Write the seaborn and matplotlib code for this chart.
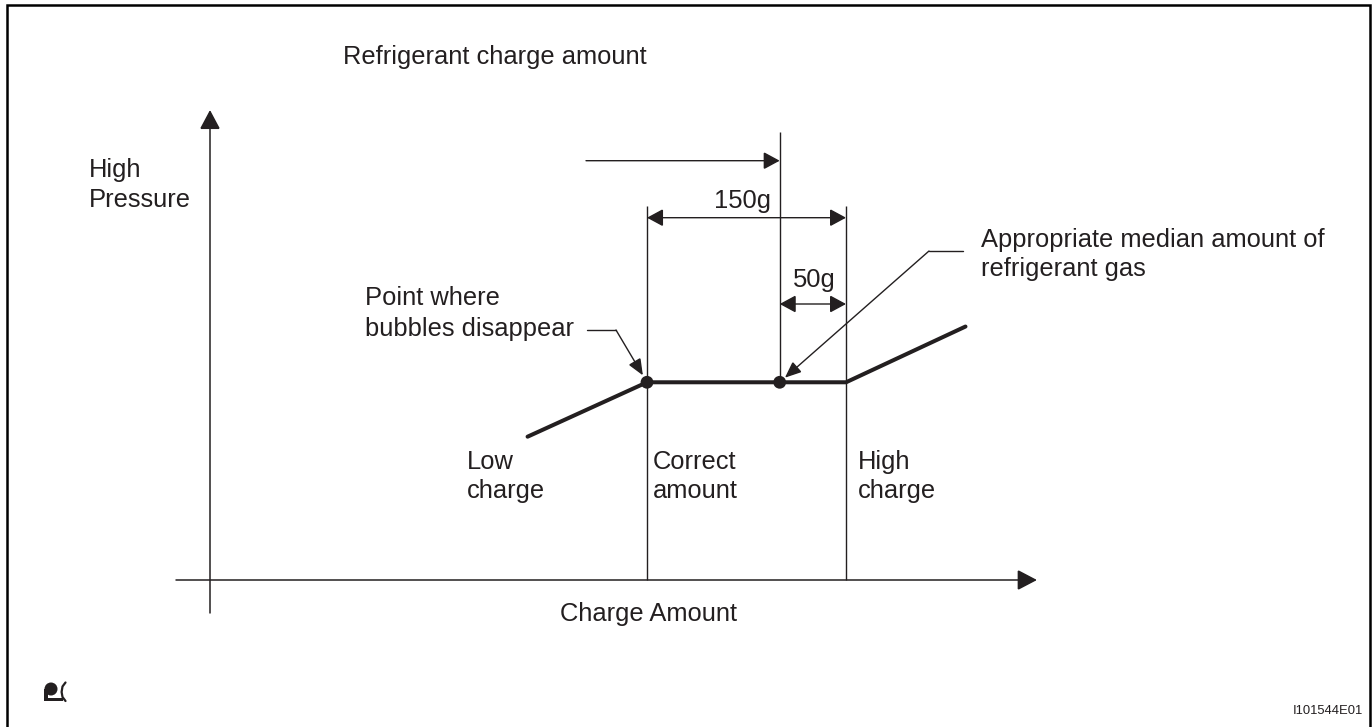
import matplotlib
matplotlib.use("Agg")
import matplotlib.pyplot as plt
import seaborn as sns
from matplotlib.transforms import Affine2D
from matplotlib.patches import Rectangle, Circle
from matplotlib.lines import Line2D

# ---------------- data ----------------
charge_g = [-90, 0, 100, 150, 240]          # charge amount (g, relative to bubble point)
high_pressure = [108, 149, 149, 149, 191]   # high pressure (relative units)
marker_g = [0, 100]                         # bubble point, appropriate median
marker_p = [149, 149]
correct_range_g = [0, 150]                  # correct amount zone
median_g = 100
dim_labels = ["150g", "50g"]
zone_labels = [["Low", "charge"], ["Correct", "amount"], ["High", "charge"]]
title = "Refrigerant charge amount"
x_label = "Charge Amount"
y_label = ["High", "Pressure"]
note_bubbles = ["Point where", "bubbles disappear"]
note_median = ["Appropriate median amount of", "refrigerant gas"]
figure_code = "I101544E01"

# ---------------- layout ----------------
W, H = 1372, 727
S = 1.327            # pixels per unit
OX, OY = 647, 580    # pixel position of the data origin
C = "#231f20"
FS = 18.4

sns.set_theme(style="white")
plt.rcParams['font.family'] = ['Liberation Sans', 'DejaVu Sans']

fig = plt.figure(figsize=(W / 100, H / 100), dpi=100)
fig.patch.set_facecolor("white")
ax = fig.add_axes([0, 0, 1, 1])
ax.set_xlim(-OX / S, (W - OX) / S)
ax.set_ylim((OY - H) / S, OY / S)
ax.axis('off')


def d(xp, yp):
    """pixel (top-left origin) -> data coords"""
    return ((xp - OX) / S, (OY - yp) / S)


tpx = Affine2D().scale(1, -1).translate(0, H)


def arrow(p0, p1, style, hl, hw, lw, shrinkB=0):
    ax.annotate("", xy=p1, xytext=p0,
                arrowprops=dict(arrowstyle=f"{style},head_length={hl},head_width={hw}",
                                lw=lw, color=C, shrinkA=0, shrinkB=shrinkB,
                                mutation_scale=1, joinstyle="miter"))


# axes arrows
arrow(d(176, 580), d(1037, 580), "-|>", 12.2, 6.4, 1.1)
arrow(d(210, 613), d(210, 110), "-|>", 12.0, 6.4, 1.1)

# zone boundary lines
top_p = d(0, 206)[1]
ax.vlines(correct_range_g, 0, top_p, color=C, lw=1.0)
ax.vlines([median_g], marker_p[1], d(0, 131.7)[1], color=C, lw=1.0)

# pressure curve
sns.lineplot(x=charge_g, y=high_pressure, ax=ax, color=C, lw=2.9,
             sort=False, estimator=None, solid_capstyle='round', zorder=4)
sns.scatterplot(x=marker_g, y=marker_p, ax=ax, s=85, color=C,
                edgecolor='none', zorder=5)

# dimension arrows
arrow((d(586, 0)[0], d(0, 160.7)[1]), (median_g, d(0, 160.7)[1]), "-|>", 10.0, 5.4, 1.0)
y150 = d(0, 217.7)[1]
arrow((correct_range_g[0], y150), (correct_range_g[1], y150), "<|-|>", 10.0, 5.4, 1.0)
y50 = d(0, 304)[1]
arrow((median_g, y50), (correct_range_g[1], y50), "<|-|>", 10.0, 5.4, 1.0)

ax.text(*d(771, 208), dim_labels[0], ha='right', va='baseline', fontsize=FS, color=C)
ax.text(*d(793, 287), dim_labels[1], ha='left', va='baseline', fontsize=FS, color=C)

# leaders
kb = d(616, 330)
ax.plot([d(587, 330)[0], kb[0]], [kb[1], kb[1]], color=C, lw=1.0)
arrow(kb, (marker_g[0], marker_p[0]), "-|>", 10.0, 4.2, 1.0, shrinkB=5.8)
km = d(929, 251)
ax.plot([d(963, 251)[0], km[0]], [km[1], km[1]], color=C, lw=1.0)
arrow(km, (marker_g[1], marker_p[1]), "-|>", 10.0, 4.2, 1.0, shrinkB=5.0)

# texts
ax.text(*d(343, 64), title, ha='left', va='baseline', fontsize=FS, color=C)
ax.text(*d(89, 177), y_label[0], ha='left', va='baseline', fontsize=FS, color=C)
ax.text(*d(89, 207), y_label[1], ha='left', va='baseline', fontsize=FS, color=C)
ax.text(*d(365, 305), note_bubbles[0], ha='left', va='baseline', fontsize=FS, color=C)
ax.text(*d(365, 336), note_bubbles[1], ha='left', va='baseline', fontsize=FS, color=C)
ax.text(*d(981, 247), note_median[0], ha='left', va='baseline', fontsize=FS, color=C)
ax.text(*d(981, 276), note_median[1], ha='left', va='baseline', fontsize=FS, color=C)
for xl, lines in zip([467, 653, 858], zone_labels):
    ax.text(*d(xl, 469), lines[0], ha='left', va='baseline', fontsize=FS, color=C)
    ax.text(*d(xl, 498), lines[1], ha='left', va='baseline', fontsize=FS, color=C)
ax.text(*d(648, 621), x_label, ha='center', va='baseline', fontsize=FS, color=C)
ax.text(*d(1363, 714), figure_code, ha='right', va='baseline', fontsize=9.4, color=C)

# frame (bottom edge cropped off in the reference)
fig.add_artist(Line2D([7, 7, 1370, 1370], [760, 5, 5, 760], transform=tpx,
                      lw=1.8, color="black", solid_joinstyle="miter"))

# small symbol bottom-left
fig.add_artist(Circle((51, 689), 6.5, transform=tpx, color=C, lw=0))
fig.add_artist(Rectangle((44, 689), 3.5, 12, transform=tpx, color=C, lw=0))
fig.add_artist(Rectangle((44, 697.5), 19, 3.5, transform=tpx, color=C, lw=0))
fig.add_artist(Line2D([65.5, 62.5, 61.6, 62.5, 65.5], [682.5, 686.5, 692, 697, 701],
                      transform=tpx, lw=1.6, color=C))

fig.savefig("out.png", dpi=100)
